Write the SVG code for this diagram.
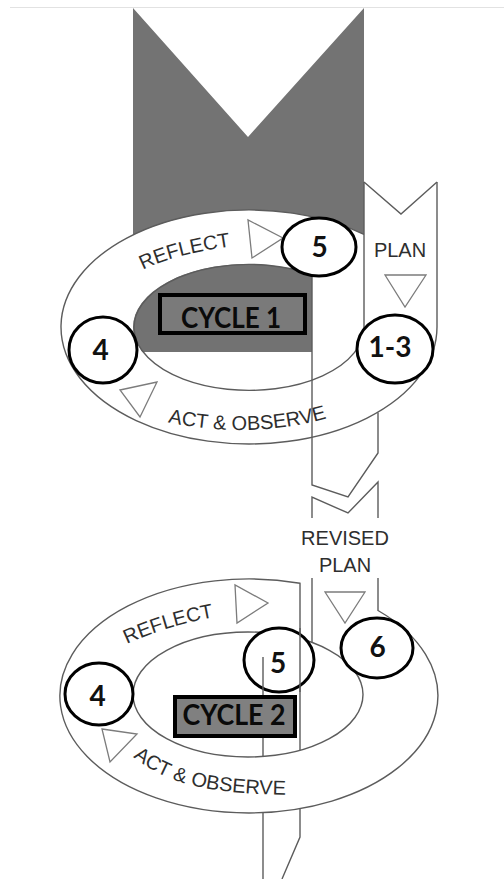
<svg xmlns="http://www.w3.org/2000/svg" width="504" height="879" viewBox="0 0 504 879">
  <defs>
    <style>
      .ln{fill:none;stroke:#5c5c5c;stroke-width:1.4}
      .tri{fill:#fff;stroke:#7c7c7c;stroke-width:1.3;stroke-linejoin:miter}
      .lbl{font-family:"Liberation Sans",Arial,sans-serif;font-size:20px;fill:#2e2e2e}
      .badge{fill:#fff;stroke:#000;stroke-width:3}
      .digit{font-family:Lato,"Open Sans",sans-serif;font-weight:700;font-size:28px;fill:#111;text-anchor:middle}
      .box{stroke:#000;stroke-width:4}
      .boxtxt{font-family:Lato,"Open Sans",sans-serif;font-weight:700;font-size:28px;fill:#0a0a0a;text-anchor:middle}
    </style>
    <clipPath id="hole1"><ellipse cx="248" cy="327" rx="115" ry="63"/></clipPath>
    <path id="reflect1" d="M143,270 Q172.2,254.5 236,245.5"/>
    <path id="act1" d="M168,422.1 A187,103 0 0 0 360.2,405.9"/>
    <path id="reflect2" d="M127,644 Q166.4,625.6 218,616.5"/>
    <path id="act2" d="M133,757 C160,777 190,795 300,795"/>
  </defs>

  <!-- page rule -->
  <line x1="10" y1="7.5" x2="504" y2="7.5" stroke="#e2e2e2" stroke-width="1"/>

  <!-- incoming shaded band with notched top -->
  <polygon points="133,8 248,137 364,8 364,300 133,300" fill="#737373"/>

  <!-- cycle 1 ring -->
  <g id="cycle1">
    <ellipse cx="249" cy="327" rx="188" ry="117" fill="#fff"/>
    <rect x="100" y="250" width="212" height="102" fill="#727272" clip-path="url(#hole1)"/>
    <!-- outer rim, from PLAN band round to the back -->
    <path class="ln" d="M437,182 V327 A188,117 0 1 1 364,234.4"/>
    <!-- PLAN band left edge turning into the inner rim -->
    <path class="ln" d="M364,182 V327 A115,63 0 1 1 312,274.7"/>
    <!-- PLAN notch -->
    <path class="ln" d="M364,182 L401,214 L437,182"/>
    <text class="lbl" x="400" y="257" text-anchor="middle">PLAN</text>
    <polygon class="tri" points="385,275 426,275 405,307"/>
    <polygon class="tri" points="248,220 252,258 283,238"/>
    <polygon class="tri" points="120,390 157,382 140,417"/>
    <text class="lbl"><textPath href="#reflect1">REFLECT</textPath></text>
    <text class="lbl"><textPath href="#act1">ACT &amp; OBSERVE</textPath></text>
    <rect class="box" x="160" y="295" width="145" height="38" fill="#7a7a7a"/>
    <text class="boxtxt" x="231" y="328" textLength="100" lengthAdjust="spacingAndGlyphs">CYCLE 1</text>
  </g>

  <!-- connectors: band running down between the cycles -->
  <g id="connectors">
    <path class="ln" d="M312,274.7 V485 L348,497 L378,453 V412.5"/>
    <path class="ln" d="M312,518 V497 L348,513 L378,482 V518"/>
    <path class="ln" d="M312,578 V642.6"/>
    <path class="ln" d="M263,812.6 V879"/>
    <path class="ln" d="M300,808.7 V837 L282,879"/>
  </g>

  <!-- revised plan label -->
  <g id="revised-plan">
    <text class="lbl" x="345" y="545" text-anchor="middle">REVISED</text>
    <text class="lbl" x="345" y="572" text-anchor="middle">PLAN</text>
    <polygon class="tri" points="325,592 365,592 345,623"/>
  </g>

  <!-- cycle 2 ring -->
  <g id="cycle2">
    <path class="ln" d="M378,578 V610.5 A189,117 0 1 1 300,583.3 V750.3"/>
    <ellipse class="ln" cx="248" cy="694.5" rx="115" ry="62.5"/>
    <polygon class="tri" points="235,585 237,623 268,603"/>
    <polygon class="tri" points="102,729 137,734 110,762"/>
    <text class="lbl"><textPath href="#reflect2">REFLECT</textPath></text>
    <text class="lbl"><textPath href="#act2">ACT &amp; OBSERVE</textPath></text>
  </g>

  <!-- numbered step markers -->
  <g id="step-5-c1">
    <ellipse class="badge" cx="319" cy="247" rx="37" ry="29"/>
    <text class="digit" x="319.5" y="257">5</text>
  </g>
  <g id="step-4-c1">
    <ellipse class="badge" cx="103" cy="350" rx="34" ry="33"/>
    <text class="digit" x="100.5" y="360">4</text>
  </g>
  <g id="step-1-3">
    <ellipse class="badge" cx="395" cy="349" rx="38" ry="34"/>
    <text class="digit" x="390" y="357">1-3</text>
  </g>
  <g id="step-4-c2">
    <ellipse class="badge" cx="99" cy="694" rx="34" ry="31"/>
    <text class="digit" x="97.5" y="706">4</text>
  </g>
  <g id="step-5-c2">
    <ellipse class="badge" cx="279" cy="660" rx="35" ry="32"/>
    <path class="ln" d="M300,628 V692 M263,657 V692"/>
    <text class="digit" x="278" y="673">5</text>
  </g>
  <g id="step-6">
    <ellipse class="badge" cx="377" cy="648" rx="36" ry="30"/>
    <text class="digit" x="377.5" y="657">6</text>
  </g>

  <!-- cycle 2 stem inside the hole, then the label box -->
  <g id="cycle2-label">
    <path class="ln" d="M263,692 V756.5"/>
    <rect class="box" x="175" y="697" width="120" height="39" fill="#808080"/>
    <text class="boxtxt" x="234" y="725" textLength="103" lengthAdjust="spacingAndGlyphs">CYCLE 2</text>
  </g>
</svg>
